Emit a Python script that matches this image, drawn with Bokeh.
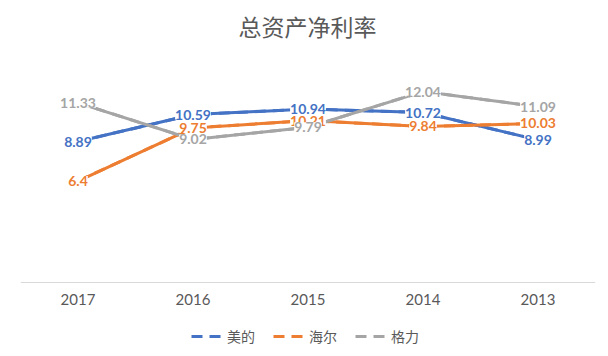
from bokeh.plotting import figure
from bokeh.models import ColumnDataSource, LabelSet, Label, Legend, LegendItem, Range1d, FactorRange
from bokeh.core.properties import value
from bokeh.embed import file_html
from bokeh.resources import INLINE

# ---- data ----
years = ["2017", "2016", "2015", "2014", "2013"]
midea = [8.89, 10.59, 10.94, 10.72, 8.99]
haier = [6.4, 9.75, 10.21, 9.84, 10.03]
gree = [11.33, 9.02, 9.79, 12.04, 11.09]
series_names = ["美的", "海尔", "格力"]
series_values = [midea, haier, gree]
colors = ["#4472C4", "#ED7D31", "#A5A5A5"]
title_text = "总资产净利率"

# value axis: 0..14 spans 222 px; the frame also holds title (60 px above) and legend (74 px below)
p = figure(
    x_range=FactorRange(*years, range_padding=0),
    y_range=Range1d(-74 * 14 / 222, 14 + 60 * 14 / 222),
    frame_width=575, frame_height=356,
    min_border_left=20, min_border_right=13, min_border_top=0, min_border_bottom=0,
    output_backend="svg", toolbar_location=None,
)
p.outline_line_color = None
p.xgrid.visible = False
p.ygrid.visible = False
p.yaxis.visible = False

p.xaxis.fixed_location = 0
p.xaxis.axis_line_color = "#D9D9D9"
p.xaxis.axis_line_width = 1
p.xaxis.major_tick_line_color = None
p.xaxis.minor_tick_line_color = None
p.xaxis.major_tick_out = 0
p.xaxis.minor_tick_out = 0
p.xaxis.major_label_standoff = 11
p.xaxis.major_label_text_font = "Lato"
p.xaxis.major_label_text_font_size = "15px"
p.xaxis.major_label_text_color = "#595959"

p.add_layout(Label(x=287, y=331, x_units="screen", y_units="screen", text=title_text,
                   text_align="center", text_baseline="middle",
                   text_font="Noto Sans CJK SC", text_font_size="23px",
                   text_color="#595959"))

sources = []
dashed = []
for vals, col in zip(series_values, colors):
    src = ColumnDataSource(dict(x=years, y=vals, t=["{:g}".format(v) for v in vals]))
    sources.append(src)
    # dashed twin lies under the solid line; it only supplies the legend glyph
    dashed.append(p.line("x", "y", source=src, line_color=col, line_width=3, line_dash="11 7"))
    p.line("x", "y", source=src, line_color=col, line_width=3)

for src, col in zip(sources, colors):
    lbl = LabelSet(x="x", y="y", text="t", source=src, text_align="center",
                   text_baseline="middle", text_font=value("Lato"), text_font_style="bold",
                   text_font_size="14px", text_color=col,
                   background_fill_color="white")
    p.add_layout(lbl)

items = [LegendItem(label=name, renderers=[r]) for name, r in zip(series_names, dashed)]

legend = Legend(items=items, orientation="horizontal", location=(171, 10),
                glyph_width=35, glyph_height=14, label_standoff=1, spacing=18,
                padding=2, margin=0, border_line_color=None,
                background_fill_alpha=0,
                label_text_font="Noto Sans CJK SC", label_text_font_size="14px",
                label_text_color="#595959", label_height=14)
p.add_layout(legend)

open("out.html", "w").write(file_html(p, INLINE))
